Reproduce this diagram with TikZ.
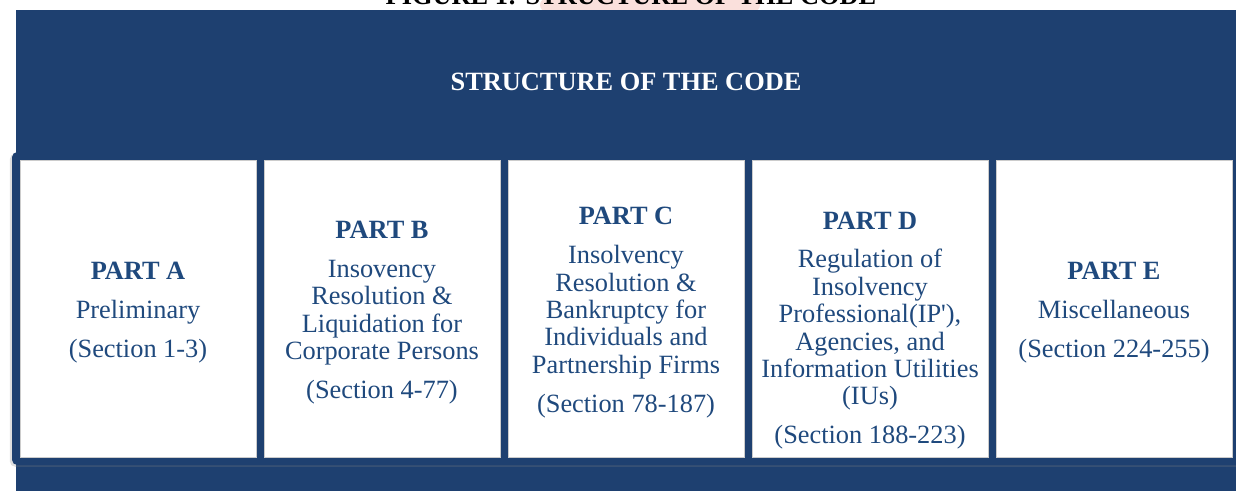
\documentclass[tikz,border=0pt]{standalone}
\usepackage{fontspec}
\setmainfont{Liberation Serif}
\usepackage{xcolor}
\usepackage{tikz}
\usetikzlibrary{positioning, shadows}

\definecolor{codeblue}{HTML}{1E4070}
\definecolor{textblue}{HTML}{1F497D}
\definecolor{markpink}{HTML}{F9D3CE}

\begin{document}
\begin{tikzpicture}[
    node distance=0.16cm,
    partbox/.style={rectangle, draw=gray!40, line width=0.5pt, fill=white, minimum width=4.72cm, minimum height=5.94cm, inner sep=0pt, outer sep=0pt},
    parttext/.style={align=center, inner sep=0pt, text=textblue, font=\fontsize{15}{15.6}\selectfont, yshift=-0.08cm},
    headtext/.style={font=\fontsize{15}{18}\selectfont\bfseries}
]

% Page area
\clip (0,0) rectangle (24.72,-9.82);
\fill[white] (0,0) rectangle (24.72,-9.82);
\fill[markpink, opacity=0.7] (13.0,-0.1) ellipse (2.2cm and 0.5cm);

% Caption (cut at the top)
\node[headtext, anchor=base] (caption) at (12.62,-0.1) {FIGURE 1: STRUCTURE OF THE CODE};

% Blue panel + title
\fill[codeblue] (0.32,-0.2) rectangle (24.72,-9.82);
\node[headtext, text=white] (title) at (12.52,-1.64) {STRUCTURE OF THE CODE};

% Frame behind the parts
\fill[codeblue, rounded corners=3pt, drop shadow={shadow xshift=-1.2pt, shadow yshift=-1pt, opacity=0.25}] (0.24,-3.04) rectangle (24.95,-9.3);

% Row: parts
\node[partbox] (partA) at (2.76,-6.17) {};
\node[partbox, right=of partA] (partB) {};
\node[partbox, right=of partB] (partC) {};
\node[partbox, right=of partC] (partD) {};
\node[partbox, right=of partD] (partE) {};

% Texts
\node[parttext] (textA) at (partA) {\textbf{PART A}\\[6.5pt] Preliminary\\[6.5pt] (Section 1-3)};
\node[parttext] (textB) at (partB) {\textbf{PART B}\\[6.5pt] Insovency\\ Resolution \&\\ Liquidation for\\ Corporate Persons\\[6.5pt] (Section 4-77)};
\node[parttext] (textC) at (partC) {\textbf{PART C}\\[6.5pt] Insolvency\\ Resolution \&\\ Bankruptcy for\\ Individuals and\\ Partnership Firms\\[6.5pt] (Section 78-187)};
\node[parttext, yshift=-0.36cm] (textD) at (partD) {\textbf{PART D}\\[6.5pt] Regulation of\\ Insolvency\\ Professional(IP\textquotesingle),\\ Agencies, and\\ Information Utilities\\ (IUs)\\[6.5pt] (Section 188-223)};
\node[parttext] (textE) at (partE) {\textbf{PART E}\\[6.5pt] Miscellaneous\\[6.5pt] (Section 224-255)};

\end{tikzpicture}
\end{document}
